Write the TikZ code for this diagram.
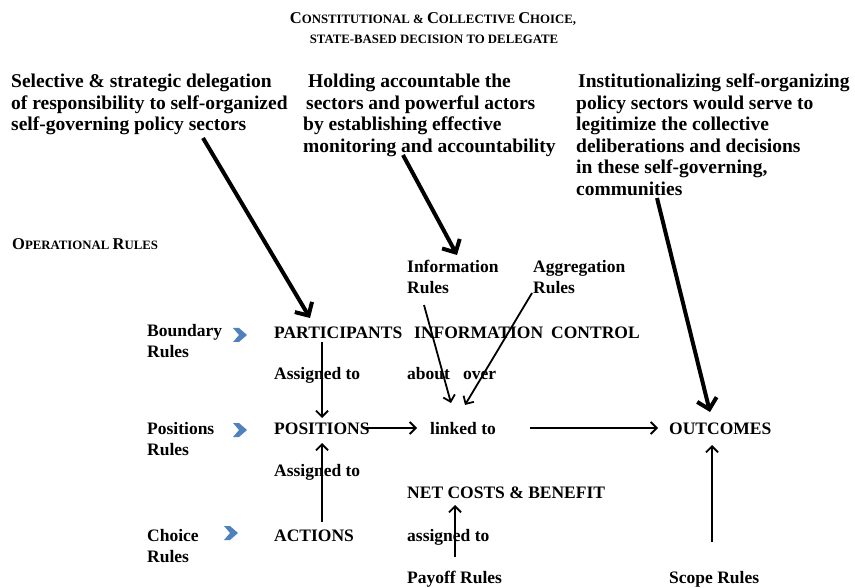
\documentclass[tikz,border=0pt]{standalone}
\usepackage{fontspec}
\setmainfont{Liberation Serif}
\usetikzlibrary{arrows.meta}
\definecolor{chevblue}{RGB}{79,129,189}
\newcommand{\bigsc}{\fontsize{16.5}{20}\selectfont}
\newcommand{\smsc}{\fontsize{12.8}{20}\selectfont}
\begin{document}
\begin{tikzpicture}[x=1pt,y=-1pt,
  para/.style={anchor=base west, inner sep=0, align=left, font=\bfseries\fontsize{19.5}{21.5}\selectfont},
  lab/.style={anchor=base west, inner sep=0, align=left, font=\bfseries\fontsize{17.5}{21}\selectfont},
  sctext/.style={inner sep=0, font=\bfseries},
  bigarrow/.style={line width=4pt, -{Straight Barb[length=10pt,width=20pt]}},
  smallarrow/.style={line width=1.8pt, -{Straight Barb[length=6pt,width=12pt]}},
  chevron/.pic={\fill[chevblue] (-7,-7) -- (-1,-7) -- (7,0) -- (-1,7) -- (-7,7) -- (-1,0) -- cycle;}
]
\useasboundingbox (0,0) rectangle (855,588);

% titles
\node[sctext, anchor=base] (title1) at (433,23.5)
  {{\bigsc C}{\smsc ONSTITUTIONAL \& }{\bigsc C}{\smsc OLLECTIVE }{\bigsc C}{\smsc HOICE,}};
\node[sctext, anchor=base] (title2) at (434,44) {\smsc STATE-BASED DECISION TO DELEGATE};
\node[sctext, anchor=base west] (oprules) at (12,250) {{\bigsc O}{\smsc PERATIONAL }{\bigsc R}{\smsc ULES}};

% paragraphs (anchor = baseline of the last line)
\node[para] (delegation) at (11,131)
  {Selective \& strategic delegation\\of responsibility to self-organized\\self-governing policy sectors};
\node[para] (holding) at (303,152.5)
  {\hspace*{5pt}Holding accountable the\\\hspace*{3pt}sectors and powerful actors\\by establishing effective\\monitoring and accountability};
\node[para] (institut) at (576,195.5)
  {\hspace*{2pt}Institutionalizing self-organizing\\policy sectors would serve to\\legitimize the collective\\deliberations and decisions\\in these self-governing,\\communities};

% rule labels (anchor = baseline of the last line)
\node[lab] (inforules) at (407,293.5) {Information\\Rules};
\node[lab] (aggrrules) at (533,293.5) {Aggregation\\Rules};
\node[lab] (boundary) at (147,358) {Boundary\\Rules};
\node[lab] (posrules) at (147,455) {Positions\\Rules};
\node[lab] (choice) at (147,562) {Choice\\Rules};
\pic at (240,335) {chevron};
\pic at (240,430) {chevron};
\pic at (231,533) {chevron};

% main row items
\node[lab] (part) at (274,338) {PARTICIPANTS};
\node[lab] (infon) at (414,338) {INFORMATION};
\node[lab] (control) at (551,338) {CONTROL};
\node[lab] (asg1) at (274,379) {Assigned to};
\node[lab] (about) at (407,379) {about};
\node[lab] (over) at (463,379) {over};
\node[lab] (pos) at (274,434) {POSITIONS};
\node[lab] (linked) at (430,434) {linked to};
\node[lab] (outcomes) at (669,434) {OUTCOMES};
\node[lab] (asg2) at (274,476) {Assigned to};
\node[lab] (net) at (407,498) {NET COSTS \& BENEFIT};
\node[lab] (actions) at (274,541) {ACTIONS};
\node[lab] (asg3) at (407,541) {assigned to};
\node[lab] (payoff) at (407,583) {Payoff Rules};
\node[lab] (scope) at (669,583) {Scope Rules};

% connector end points
\coordinate (a1s) at (203,138);  \coordinate (a1e) at (310,318);
\coordinate (a2s) at (403,155);  \coordinate (a2e) at (457,255);
\coordinate (a3s) at (657,198);  \coordinate (a3e) at (710,412);
\coordinate (irs) at (424,305);  \coordinate (ire) at (451,403);
\coordinate (ars) at (532,293);  \coordinate (are) at (465,405);
\coordinate (pps) at (322,342);  \coordinate (ppe) at (322,418);
\coordinate (aps) at (322,522);  \coordinate (ape) at (322,443);
\coordinate (pls) at (365,428);  \coordinate (ple) at (417,428);
\coordinate (los) at (530,428);  \coordinate (loe) at (658,428);
\coordinate (pns) at (455,557);  \coordinate (pne) at (455,505);
\coordinate (sos) at (712,542);  \coordinate (soe) at (712,445);

\draw[bigarrow] (a1s) -- (a1e);
\draw[bigarrow] (a2s) -- (a2e);
\draw[bigarrow] (a3s) -- (a3e);
\draw[smallarrow] (irs) -- (ire);
\draw[smallarrow] (ars) -- (are);
\draw[smallarrow] (pps) -- (ppe);
\draw[smallarrow] (aps) -- (ape);
\draw[smallarrow] (pls) -- (ple);
\draw[smallarrow] (los) -- (loe);
\draw[smallarrow] (pns) -- (pne);
\draw[smallarrow] (sos) -- (soe);
\end{tikzpicture}
\end{document}
